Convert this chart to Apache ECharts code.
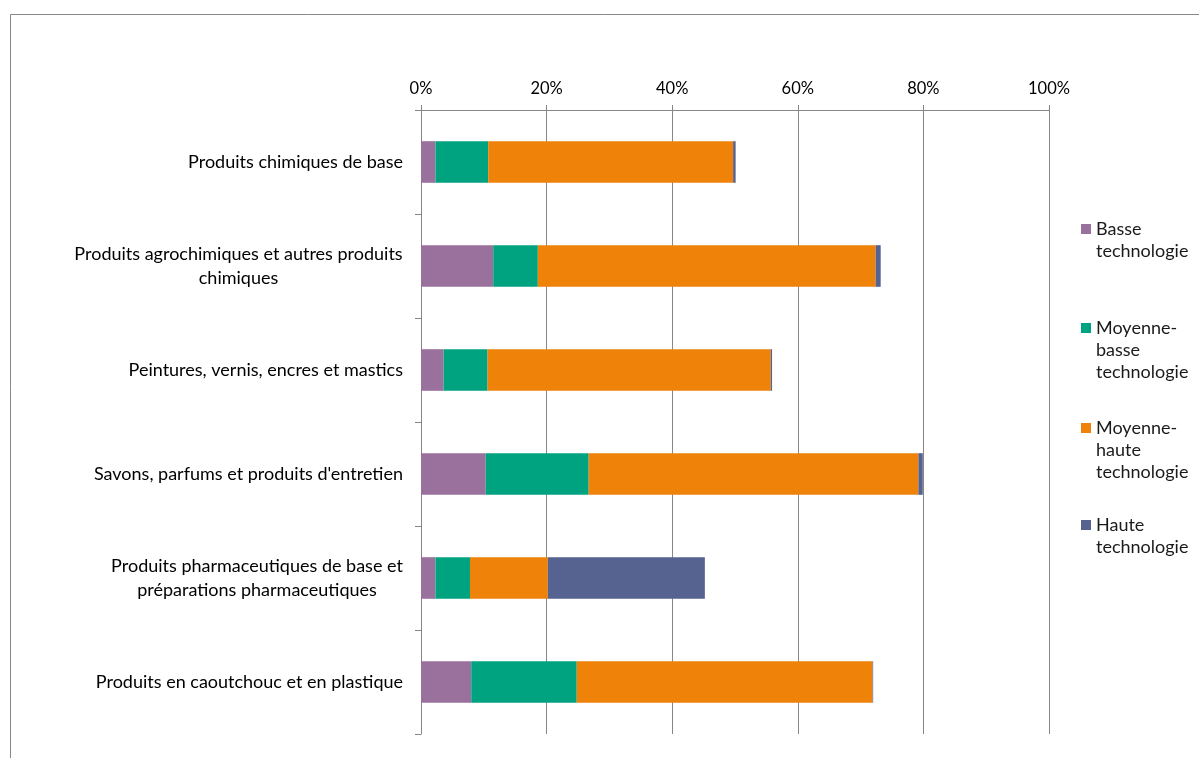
<!DOCTYPE html>
<html>
<head>
<meta charset="utf-8">
<script src="https://cdn.jsdelivr.net/npm/echarts@6/dist/echarts.min.js"></script>
<style>
html,body{margin:0;padding:0;background:#fff;}
#chart{width:1199px;height:758px;}
</style>
</head>
<body>
<div id="chart"></div>
<script>
// ---- data ----
const categories = [
  'Produits chimiques de base',
  'Produits agrochimiques et autres produits\nchimiques',
  'Peintures, vernis, encres et mastics',
  "Savons, parfums et produits d'entretien",
  'Produits pharmaceutiques de base et\npréparations pharmaceutiques',
  'Produits en caoutchouc et en plastique'
];
const seriesNames = ['Basse\ntechnologie', 'Moyenne-\nbasse\ntechnologie', 'Moyenne-\nhaute\ntechnologie', 'Haute\ntechnologie'];
const basse     = [2.3, 11.5, 3.6, 10.3, 2.3, 8.0];
const moyBasse  = [8.4, 7.1, 7.0, 16.4, 5.5, 16.8];
const moyHaute  = [39.0, 53.8, 45.1, 52.5, 12.4, 47.1];
const haute     = [0.4, 0.8, 0.2, 0.7, 25.0, 0.1];
const xTicks = [0, 20, 40, 60, 80, 100];

const colors = ['#9a709c', '#00a37f', '#ef8208', '#566290'];
const FONT = 'Lato';
const LABEL_SIZE = 18;
const TICK_SIZE = 16.5;
const LEGEND_SIZE = 18;

// measure line widths so wrapped lines are centered under each other
const ctx = document.createElement('canvas').getContext('2d');
ctx.font = LABEL_SIZE + 'px ' + FONT;
const rich = {};
const labelMap = {};
categories.forEach((c, i) => {
  const lines = c.split('\n');
  if (lines.length > 1) {
    const w = Math.max.apply(null, lines.map(l => ctx.measureText(l).width));
    rich['w' + i] = { width: Math.ceil(w), align: 'center', fontSize: LABEL_SIZE, lineHeight: 24, fontFamily: FONT, color: '#000' };
    labelMap[c] = lines.map(l => '{w' + i + '|' + l + '}').join('\n');
  }
});

const chart = echarts.init(document.getElementById('chart'), null, { renderer: 'canvas' });

const legendCenters = [229, 328, 428, 525];
const legends = seriesNames.map((n, i) => {
  const lines = n.split('\n').length;
  return {
    orient: 'vertical',
    left: 1081,
    top: legendCenters[i] - 11 * (2 * lines - 1),
    padding: 0,
    itemWidth: 10,
    itemHeight: 10,
    itemGap: 0,
    icon: 'rect',
    selectedMode: false,
    data: [n],
    formatter: name => '\n'.repeat(lines - 1) + name,
    textStyle: { fontFamily: FONT, fontSize: LEGEND_SIZE, lineHeight: 22, color: '#1a1a1a' }
  };
});

const vals = [basse, moyBasse, moyHaute, haute];
const option = {
  animation: false,
  backgroundColor: '#fff',
  textStyle: { fontFamily: FONT },
  graphic: [{
    type: 'polyline',
    shape: { points: [[10.5, 758], [10.5, 14.5], [1199, 14.5]] },
    style: { stroke: '#888', lineWidth: 1, fill: null },
    silent: true
  }],
  legend: legends,
  grid: { left: 421, right: 150, top: 110, bottom: 24, containLabel: false },
  xAxis: {
    type: 'value',
    position: 'top',
    min: xTicks[0],
    max: xTicks[xTicks.length - 1],
    interval: 20,
    axisLine: { show: true, lineStyle: { color: '#868686', width: 1 } },
    axisTick: { show: true, inside: false, length: 5, lineStyle: { color: '#868686' } },
    splitLine: { show: true, lineStyle: { color: '#868686', width: 1 } },
    axisLabel: { formatter: '{value}%', fontFamily: FONT, fontSize: TICK_SIZE, color: '#000', margin: 13 }
  },
  yAxis: {
    type: 'category',
    inverse: true,
    data: categories,
    axisLine: { show: true, lineStyle: { color: '#868686', width: 1 } },
    axisTick: { show: true, inside: false, length: 6, alignWithLabel: false, lineStyle: { color: '#868686' } },
    axisLabel: {
      fontFamily: FONT, fontSize: LABEL_SIZE, color: '#000', margin: 18, lineHeight: 24,
      align: 'right',
      formatter: v => labelMap[v] || v,
      rich: rich
    }
  },
  series: seriesNames.map((n, i) => ({
    name: n,
    type: 'bar',
    stack: 'total',
    barWidth: '40%',
    itemStyle: { color: colors[i] },
    data: vals[i]
  }))
};
chart.setOption(option);
</script>
</body>
</html>
